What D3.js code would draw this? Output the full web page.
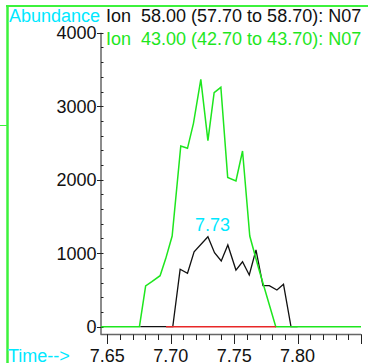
<!DOCTYPE html>
<html>
<head>
<meta charset="utf-8">
<script src="https://cdn.jsdelivr.net/npm/d3@7"></script>
<style>
body{margin:0;background:#fff;overflow:hidden}
text{font-family:"Liberation Sans",Arial,sans-serif}
</style>
</head>
<body>
<div id="chart"></div>
<script>
// ion 43 (green)
var timeA = [7.645,7.6753,7.6802,7.6851,7.6916,7.6961,7.7011,7.7079,7.7132,7.7179,7.7237,7.7293,7.7342,7.7395,7.7449,7.7514,7.7566,7.7623,7.7692,7.7828,7.85]
var abundA = [0,0,554,612,694,930,1234,2459,2427,2767,3366,2531,3184,3257,2030,1982,2390,1234,799,0,0]
// ion 58 (black)
var timeB = [7.676,7.7016,7.7074,7.7132,7.7184,7.7293,7.7345,7.7398,7.745,7.7514,7.7566,7.7619,7.7672,7.7727,7.7777,7.7837,7.7889,7.7948,7.80]
var abundB = [0,0,781,727,1020,1224,1007,894,1112,771,884,703,1044,558,558,499,577,0,0]
// third trace, flat
var timeC = [7.6963,7.7829]
var abundC = [0,0]

var yTicks = [0,1000,2000,3000,4000]
var xTicks = [7.65,7.70,7.75,7.80,7.85]
var peakLabel = "7.73"
var header1 = "Ion  58.00 (57.70 to 58.70): N07"
var header2 = "Ion  43.00 (42.70 to 43.70): N07"

var W = 368, H = 363
var svg = d3.select("#chart").append("svg").attr("width",W).attr("height",H)

var x = d3.scaleLinear().domain([7.645,7.85]).range([101,361])
var y = d3.scaleLinear().domain([0,4000]).range([326.7,32.7])

// frame
svg.append("line").attr("x1",7.5).attr("x2",7.5).attr("y1",5).attr("y2",H).attr("stroke","#3cf23c").attr("stroke-width",2.5)
svg.append("line").attr("x1",6).attr("x2",W).attr("y1",6).attr("y2",6).attr("stroke","#3cf23c").attr("stroke-width",2)
svg.append("line").attr("x1",0).attr("x2",7).attr("y1",125.5).attr("y2",125.5).attr("stroke","#3cf23c").attr("stroke-width",1)

// axes lines
var axisCol = "#666"
svg.append("line").attr("x1",101).attr("x2",101).attr("y1",y(4000)).attr("y2",334.5).attr("stroke",axisCol).attr("stroke-width",1.5)
svg.append("line").attr("x1",100.5).attr("x2",x(7.85)).attr("y1",334.5).attr("y2",334.5).attr("stroke",axisCol).attr("stroke-width",1.5)

// y ticks
var yMinor = d3.range(0,4001,200)
svg.selectAll(".ymin").data(yMinor).enter().append("line")
	.attr("x1",101).attr("x2",103.5)
	.attr("y1",function(d){return Math.round(y(d))+0.5}).attr("y2",function(d){return Math.round(y(d))+0.5})
	.attr("stroke","#222").attr("stroke-width",1)
svg.selectAll(".ymaj").data(yTicks).enter().append("line")
	.attr("x1",97).attr("x2",101)
	.attr("y1",function(d){return Math.round(y(d))+0.5}).attr("y2",function(d){return Math.round(y(d))+0.5})
	.attr("stroke","#222").attr("stroke-width",1)
svg.selectAll(".ylab").data(yTicks).enter().append("text")
	.attr("x",96.5).attr("y",function(d){return y(d)+6.5})
	.attr("text-anchor","end").style("font-size","18px").attr("fill","#111")
	.text(function(d){return d})

// x ticks
var xMinor = d3.range(0,21).map(function(i){return 7.65+i*0.01})
svg.selectAll(".xmin").data(xMinor).enter().append("line")
	.attr("x1",function(d){return Math.round(x(d))+0.5}).attr("x2",function(d){return Math.round(x(d))+0.5})
	.attr("y1",334.5).attr("y2",340)
	.attr("stroke","#222").attr("stroke-width",1)
svg.selectAll(".xmaj").data(xTicks).enter().append("line")
	.attr("x1",function(d){return Math.round(x(d))+0.5}).attr("x2",function(d){return Math.round(x(d))+0.5})
	.attr("y1",334.5).attr("y2",344)
	.attr("stroke","#222").attr("stroke-width",1)
svg.selectAll(".xlab").data(xTicks.slice(0,4)).enter().append("text")
	.attr("x",function(d){return x(d)}).attr("y",362)
	.attr("text-anchor","middle").style("font-size","18px").attr("fill","#111")
	.text(function(d){return d.toFixed(2)})

// traces
var line = d3.line().x(function(d){return x(d[0])}).y(function(d){return y(d[1])})
svg.append("path").datum(d3.zip(timeB,abundB)).attr("d",line).attr("fill","none").attr("stroke","#111").attr("stroke-width",1.3)
svg.append("path").datum(d3.zip(timeA,abundA)).attr("d",line).attr("fill","none").attr("stroke","#1ee61e").attr("stroke-width",1.5)
svg.append("path").datum(d3.zip(timeC,abundC)).attr("d",line).attr("fill","none").attr("stroke","#e82828").attr("stroke-width",1.5)

// labels
svg.append("text").attr("x",x(7.733)).attr("y",y(1224)-6).attr("text-anchor","middle")
	.style("font-size","18px").attr("fill","#00e8ff").text(peakLabel)
svg.append("text").attr("x",9).attr("y",22).style("font-size","18px").attr("fill","#00e8ff").text("Abundance")
svg.append("text").attr("x",8).attr("y",362).style("font-size","18px").attr("fill","#00e8ff").text("Time-->")
svg.append("text").attr("x",106).attr("y",22).style("font-size","18px").style("white-space","pre").attr("fill","#111").text(header1)
svg.append("text").attr("x",106).attr("y",45).style("font-size","18px").style("white-space","pre").attr("fill","#1ee61e").text(header2)
</script>
</body>
</html>
